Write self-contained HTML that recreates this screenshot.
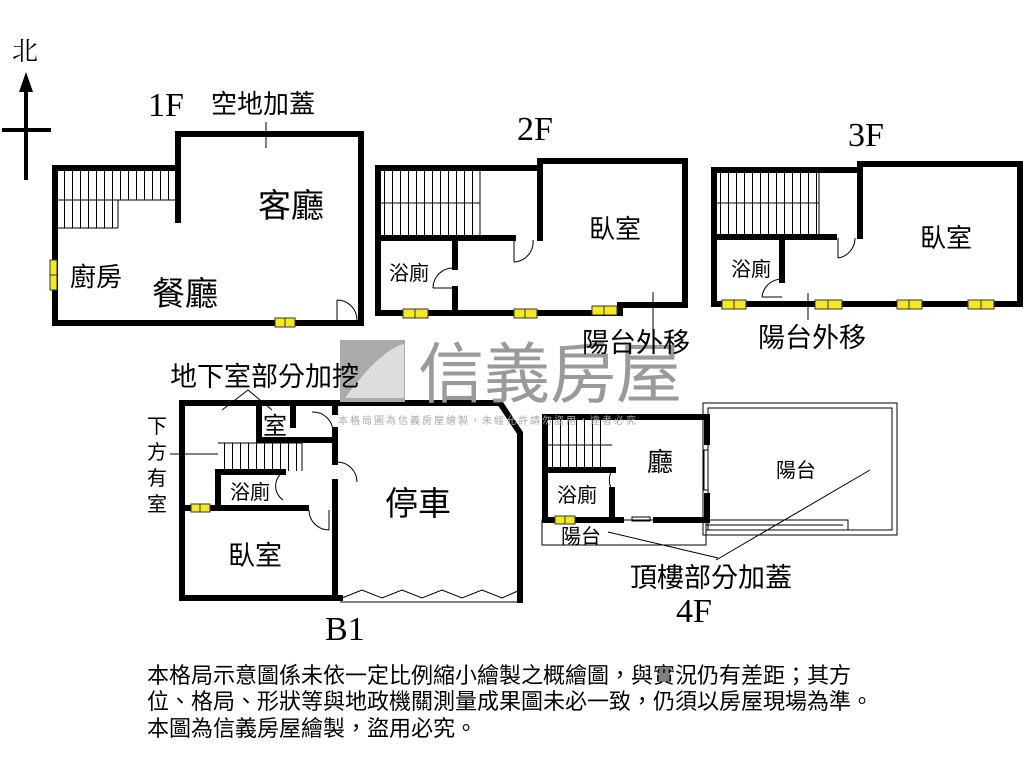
<!DOCTYPE html>
<html><head><meta charset="utf-8"><style>
html,body{margin:0;padding:0;background:#fff;}
svg{display:block;}
text{font-family:"Liberation Sans","Noto Sans CJK TC",sans-serif;fill:#000;}
.serif{font-family:"Liberation Serif","Noto Serif CJK SC",serif;}
</style></head><body>
<svg width="1024" height="768" viewBox="0 0 1024 768" xmlns="http://www.w3.org/2000/svg">
<defs>
<pattern id="st" width="8" height="10" patternUnits="userSpaceOnUse"><line x1="0.5" y1="0" x2="0.5" y2="10" stroke="#000" stroke-width="1"/></pattern>
</defs>
<g fill="none" stroke="#000" stroke-width="6" stroke-linecap="square">
<polyline points="178,220 178,134 361,134 361,323 55,323 55,168 178,168"/>
<polyline points="540,238 540,161 685,161 685,305 620,305 620,313 378,313 378,168 540,168"/>
<line x1="378" y1="238" x2="513" y2="238"/>
<line x1="455" y1="238" x2="455" y2="267"/>
<line x1="455" y1="289" x2="455" y2="313"/>
<polyline points="860,236 860,164 1020,164 1020,304 714,304 714,170 860,170"/>
<line x1="714" y1="237" x2="834" y2="237"/>
<line x1="782" y1="237" x2="782" y2="280"/>
<polyline points="340,598 182,598 182,403 500,403 520,433 520,600"/>
<line x1="259" y1="403" x2="259" y2="440"/>
<line x1="259" y1="440" x2="335" y2="440"/>
<line x1="293" y1="403" x2="293" y2="425"/>
<line x1="335" y1="403" x2="335" y2="412"/>
<line x1="335" y1="430" x2="335" y2="462"/>
<line x1="335" y1="482" x2="335" y2="598"/>
<polyline points="283,472 218,472 218,508"/>
<line x1="182" y1="508" x2="306" y2="508"/>
<polyline points="545,520 545,417 707,417 707,442"/>
<line x1="707" y1="496" x2="707" y2="520"/>
<line x1="545" y1="470" x2="613" y2="470"/>
<line x1="612" y1="490" x2="612" y2="518"/>
<line x1="545" y1="520" x2="621" y2="520"/>
<line x1="656" y1="520" x2="707" y2="520"/>
</g>
<rect x="58" y="171" width="117" height="29" fill="url(#st)"/><line x1="58" y1="200" x2="175" y2="200" stroke="#000"/>
<rect x="58" y="200" width="60" height="28" fill="url(#st)"/><line x1="58" y1="228" x2="118" y2="228" stroke="#000"/><line x1="118" y1="200" x2="118" y2="228" stroke="#000"/>
<rect x="381" y="171" width="99" height="65" fill="url(#st)"/><line x1="381" y1="203" x2="480" y2="203" stroke="#000"/><line x1="480" y1="171" x2="480" y2="236" stroke="#000"/>
<rect x="717" y="173" width="102" height="62" fill="url(#st)"/><line x1="717" y1="203" x2="819" y2="203" stroke="#000"/><line x1="819" y1="173" x2="819" y2="235" stroke="#000"/>
<rect x="218" y="443" width="84" height="28" fill="url(#st)"/><line x1="302" y1="443" x2="302" y2="471" stroke="#000"/><line x1="218" y1="443" x2="302" y2="443" stroke="#000"/>
<rect x="548" y="420" width="56" height="48" fill="url(#st)"/><line x1="548" y1="445" x2="612" y2="445" stroke="#000"/>
<g fill="none" stroke="#000" stroke-width="1">
<path d="M337,300 A20,20 0 0 1 357,320"/><line x1="337" y1="300" x2="337" y2="323"/>
<path d="M514,262 A20,20 0 0 0 533,240"/><line x1="514" y1="240" x2="514" y2="262"/>
<path d="M433,288 A20,20 0 0 1 453,268"/><line x1="433" y1="288" x2="453" y2="288"/>
<path d="M838,258 A20,20 0 0 0 855,238"/><line x1="838" y1="238" x2="838" y2="258"/>
<path d="M762,297 A20,20 0 0 1 782,279"/><line x1="762" y1="297" x2="782" y2="297"/>
<path d="M312,412 A20,20 0 0 1 333,432"/>
<path d="M337,462 A20,20 0 0 1 357,482"/>
<path d="M309,510 A20,20 0 0 0 329,530"/><line x1="329" y1="510" x2="329" y2="530"/>
<path d="M283,472 A17,17 0 0 0 283,500"/>
<path d="M612,470 A20,20 0 0 0 612,490"/>
<rect x="632" y="517" width="18" height="4"/>
<rect x="704" y="450" width="4" height="40"/>
<polyline points="342,598 362,590 382,598 402,590 422,598 442,590 462,598 482,590 502,598 520,590"/>
<line x1="340" y1="602" x2="520" y2="602"/>
<rect x="542" y="520" width="164" height="25"/>
<rect x="703" y="403" width="194" height="132"/>
<rect x="708" y="408" width="184" height="122"/>
<polyline points="706,520 848,520 848,530 706,530"/>
<polyline points="706,525 843,525"/>
<line x1="266" y1="122" x2="266" y2="148"/>
<line x1="653" y1="292" x2="653" y2="330"/>
<line x1="808" y1="293" x2="808" y2="320"/>
<polyline points="222,410 248,390 272,410"/>
<line x1="170" y1="454" x2="218" y2="454"/>
<line x1="608" y1="532" x2="718" y2="558"/>
<line x1="870" y1="470" x2="716" y2="560"/>
</g>
<g fill="#f5e81e" stroke="#333" stroke-width="1">
<rect x="50" y="260" width="7" height="30"/>
<rect x="275" y="318" width="20" height="9"/>
<rect x="403" y="309" width="25" height="9"/><rect x="514" y="309" width="23" height="9"/><rect x="592" y="306" width="25" height="9"/>
<rect x="722" y="300" width="24" height="9"/><rect x="815" y="300" width="27" height="9"/><rect x="897" y="300" width="25" height="9"/><rect x="968" y="300" width="26" height="9"/>
<rect x="191" y="504" width="19" height="8"/>
<rect x="555" y="516" width="20" height="8"/>
</g>
<g stroke="#333" stroke-width="1">
<line x1="50" y1="275" x2="57" y2="275"/><line x1="285" y1="318" x2="285" y2="327"/>
<line x1="415" y1="309" x2="415" y2="318"/><line x1="525" y1="309" x2="525" y2="318"/><line x1="604" y1="306" x2="604" y2="315"/>
<line x1="734" y1="300" x2="734" y2="309"/><line x1="828" y1="300" x2="828" y2="309"/><line x1="909" y1="300" x2="909" y2="309"/><line x1="981" y1="300" x2="981" y2="309"/>
<line x1="200" y1="504" x2="200" y2="512"/><line x1="565" y1="516" x2="565" y2="524"/>
</g>
<line x1="26" y1="180" x2="26" y2="90" stroke="#000" stroke-width="4"/>
<polygon points="19,92 26,72 33,92" fill="#000"/>
<line x1="2" y1="130" x2="51" y2="130" stroke="#000" stroke-width="4"/>
<text x="12" y="60" font-size="26" class="serif">北</text>
<rect x="340" y="340" width="65" height="62" fill="#aaa"/>
<path d="M345,398 Q380,350 404,344 L404,398 Z" fill="#fff" opacity="0.6"/>
<text x="418" y="397" font-size="66" style="fill:#9a9a9a">信義房屋</text>
<text x="338" y="424" font-size="10" style="fill:#aaa" letter-spacing="2">本格局圖為信義房屋繪製，未經允許請勿盜用，違者必究</text>
<text x="148" y="116" font-size="34" class="serif">1F</text>
<text x="517" y="140" font-size="34" class="serif">2F</text>
<text x="848" y="146" font-size="34" class="serif">3F</text>
<text x="325" y="640" font-size="34" class="serif">B1</text>
<text x="676" y="622" font-size="34" class="serif">4F</text>
<text x="211" y="113" font-size="26">空地加蓋</text>
<text x="258" y="217" font-size="33">客廳</text>
<text x="70" y="286" font-size="26">廚房</text>
<text x="152" y="305" font-size="33">餐廳</text>
<text x="589" y="238" font-size="26">臥室</text>
<text x="389" y="280" font-size="20">浴廁</text>
<text x="582" y="352" font-size="27">陽台外移</text>
<text x="920" y="247" font-size="26">臥室</text>
<text x="731" y="276" font-size="20">浴廁</text>
<text x="758" y="347" font-size="27">陽台外移</text>
<text x="170" y="386" font-size="27">地下室部分加挖</text>
<text x="263" y="434" font-size="24">室</text>
<text x="147" y="433" font-size="20">下</text>
<text x="147" y="459" font-size="20">方</text>
<text x="147" y="485" font-size="20">有</text>
<text x="147" y="511" font-size="20">室</text>
<text x="230" y="499" font-size="20">浴廁</text>
<text x="228" y="565" font-size="27">臥室</text>
<text x="385" y="515" font-size="33">停車</text>
<text x="647" y="471" font-size="26">廳</text>
<text x="557" y="502" font-size="20">浴廁</text>
<text x="776" y="477" font-size="20">陽台</text>
<text x="561" y="543" font-size="20">陽台</text>
<text x="630" y="587" font-size="27">頂樓部分加蓋</text>
<g font-size="22">
<text x="147" y="683">本格局示意圖係未依一定比例縮小繪製之概繪圖，與實況仍有差距；其方</text>
<text x="147" y="709">位、格局、形狀等與地政機關測量成果圖未必一致，仍須以房屋現場為準。</text>
<text x="147" y="736">本圖為信義房屋繪製，盜用必究。</text>
</g>
</svg>
</body></html>
